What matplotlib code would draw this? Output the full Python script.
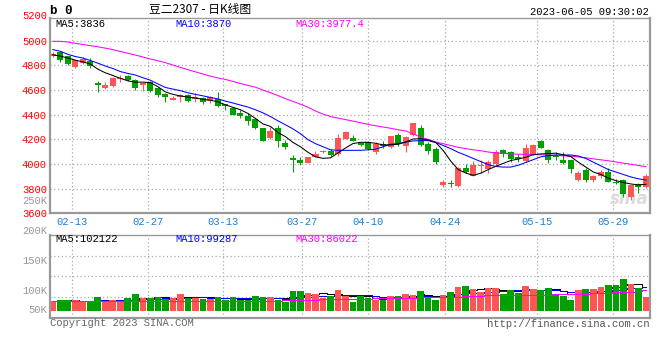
import numpy as np
import pandas as pd
import matplotlib
matplotlib.use("Agg")
import matplotlib.pyplot as plt

# ----------------------------
# data (豆二2307 daily K line)
# ----------------------------
opens = [4875, 4905, 4875, 4790, 4820, 4835, 4655, 4615, 4632, 4690,
         4712, 4685, 4640, 4665, 4620, 4565, 4520, 4540, 4560, 4525,
         4535, 4512, 4525, 4490, 4455, 4415, 4390, 4365, 4290, 4210,
         4295, 4170, 4045, 4030, 4008, 4057, 4097, 4105, 4080, 4205,
         4208, 4170, 4175, 4095, 4166, 4135, 4235, 4145, 4232, 4295,
         4165, 4122, 3830, 3845, 3820, 3970, 3906, 3982, 3960, 3998,
         4110, 4100, 4057, 4025, 4074, 4186, 4110, 4062, 4030, 4030,
         3873, 3953, 3873, 3906, 3938, 3850, 3867, 3732, 3840, 3813]
highs = [4905, 4915, 4880, 4845, 4865, 4860, 4670, 4665, 4705, 4725,
         4720, 4692, 4660, 4670, 4625, 4575, 4550, 4565, 4570, 4575,
         4540, 4550, 4585, 4490, 4460, 4435, 4410, 4375, 4295, 4300,
         4320, 4195, 4075, 4055, 4060, 4108, 4114, 4120, 4245, 4265,
         4235, 4175, 4180, 4175, 4185, 4230, 4250, 4225, 4335, 4320,
         4175, 4135, 3870, 3870, 3975, 4000, 4025, 4030, 4030, 4110,
         4120, 4105, 4080, 4160, 4160, 4195, 4120, 4100, 4098, 4035,
         3940, 3965, 3910, 3950, 3965, 3875, 3875, 3830, 3845, 3915]
lows = [4865, 4830, 4800, 4775, 4810, 4775, 4585, 4605, 4625, 4665,
        4675, 4600, 4595, 4585, 4545, 4505, 4517, 4505, 4505, 4507,
        4490, 4495, 4465, 4440, 4395, 4375, 4320, 4285, 4185, 4200,
        4140, 4120, 3935, 3995, 4005, 4057, 4090, 4065, 4065, 4203,
        4185, 4145, 4110, 4085, 4130, 4130, 4145, 4098, 4230, 4150,
        4085, 4000, 3810, 3810, 3810, 3925, 3906, 3925, 3925, 3995,
        4060, 4020, 4015, 4020, 4073, 4127, 4010, 4030, 3998, 3930,
        3860, 3855, 3855, 3890, 3850, 3835, 3730, 3708, 3762, 3805]
closes = [4890, 4840, 4815, 4840, 4855, 4795, 4640, 4637, 4700, 4700,
          4682, 4618, 4660, 4595, 4557, 4540, 4533, 4560, 4513, 4545,
          4505, 4540, 4470, 4470, 4400, 4390, 4345, 4290, 4190, 4270,
          4190, 4140, 4032, 4005, 4057, 4078, 4105, 4075, 4210, 4258,
          4188, 4155, 4118, 4165, 4150, 4225, 4160, 4220, 4333, 4155,
          4106, 4015, 3857, 3838, 3970, 3934, 3992, 3990, 4014, 4100,
          4085, 4041, 4041, 4128, 4155, 4128, 4036, 4058, 4005, 3960,
          3927, 3867, 3900, 3938, 3857, 3846, 3755, 3827, 3810, 3900]

ma5 = [4886, 4875, 4860, 4843, 4828, 4812, 4770, 4740, 4718, 4695,
       4675, 4664, 4664, 4660, 4628, 4585, 4565, 4552, 4543, 4535,
       4525, 4517, 4505, 4480, 4460, 4440, 4410, 4370, 4325, 4305,
       4255, 4222, 4175, 4140, 4095, 4058, 4046, 4050, 4090, 4130,
       4166, 4176, 4176, 4168, 4155, 4155, 4160, 4178, 4203, 4205,
       4195, 4175, 4110, 4025, 3955, 3927, 3908, 3925, 3955, 3981,
       4005, 4028, 4040, 4055, 4075, 4082, 4084, 4088, 4075, 4060,
       4015, 3975, 3935, 3915, 3885, 3865, 3850, 3838, 3830, 3836]
ma10 = [4928, 4915, 4890, 4872, 4860, 4840, 4818, 4795, 4775, 4750,
        4735, 4722, 4700, 4680, 4650, 4621, 4608, 4595, 4578, 4565,
        4553, 4540, 4528, 4510, 4495, 4478, 4462, 4440, 4415, 4385,
        4350, 4318, 4285, 4245, 4198, 4165, 4140, 4115, 4111, 4111,
        4111, 4111, 4115, 4120, 4140, 4160, 4166, 4178, 4187, 4190,
        4190, 4175, 4150, 4125, 4095, 4071, 4045, 4020, 3995, 3980,
        3975, 3975, 3990, 4012, 4035, 4058, 4068, 4073, 4073, 4073,
        4065, 4045, 4015, 3985, 3955, 3935, 3915, 3895, 3880, 3870]
ma30 = [4995, 4995, 4990, 4979, 4970, 4960, 4951, 4940, 4928, 4913,
        4899, 4884, 4868, 4852, 4838, 4822, 4803, 4784, 4765, 4748,
        4730, 4713, 4698, 4686, 4670, 4653, 4638, 4623, 4600, 4578,
        4555, 4530, 4508, 4485, 4460, 4430, 4405, 4385, 4372, 4360,
        4348, 4335, 4322, 4310, 4300, 4290, 4278, 4268, 4245, 4218,
        4200, 4178, 4165, 4150, 4135, 4125, 4115, 4108, 4097, 4090,
        4086, 4082, 4079, 4078, 4077, 4075, 4073, 4070, 4066, 4063,
        4057, 4050, 4042, 4034, 4026, 4017, 4007, 3998, 3988, 3977.4]

volumes = [41000, 45200, 45200, 45200, 38200, 38200, 57900, 41000, 45200, 38200,
           53700, 70700, 53700, 53700, 57900, 48000, 53700, 70700, 53700, 53700,
           50900, 50900, 57900, 45200, 57900, 45200, 45200, 62200, 57900, 57900,
           45200, 36700, 83400, 83400, 74900, 70700, 53700, 62200, 87600, 62200,
           36700, 62200, 53700, 45200, 45200, 62200, 62200, 70700, 66400, 83400,
           53700, 45200, 66400, 79100, 100300, 104600, 91800, 79100, 96100, 96100,
           70700, 87600, 74900, 104600, 91800, 87600, 96100, 70700, 62200, 45200,
           87600, 91800, 91800, 100300, 108800, 108800, 134200, 113000, 96100, 59300]
vol_ma30 = [41000, 41000, 41000, 41000, 41000, 41000, 41000, 41000, 41000, 41000,
            41000, 41000, 41000, 41000, 41000, 41000, 41000, 41000, 41000, 41000,
            41000, 41000, 41000, 41000, 41000, 41000, 41000, 41500, 42000, 42500,
            43000, 43500, 43800, 44500, 45500, 46500, 47500, 48500, 49500, 49500,
            49500, 50500, 51500, 52500, 53700, 53700, 53700, 54500, 55500, 56000,
            56500, 56500, 56500, 57500, 59000, 60800, 61500, 63000, 65000, 65000,
            65500, 66500, 67800, 67800, 67800, 67800, 68500, 70700, 70700, 70700,
            71500, 72500, 74900, 74900, 76000, 79100, 79100, 80000, 83400, 86022]

date_labels = ['02-13', '02-27', '03-13', '03-27', '04-10', '04-24', '05-15', '05-29']
price_ticks = [3600, 3800, 4000, 4200, 4400, 4600, 4800, 5000]
vol_labels = ['250K', '200K', '150K', '100K', '50K']

# ----------------------------
# layout (pixels of a 660x360 canvas)
# ----------------------------
W, H = 660, 360
date_pos = [2.6, 12.73, 22.72, 33.16, 42.03, 52.25, 64.46, 74.59]
vol_label_y = [201, 231, 260.7, 290.7, 310]

RED = '#ff5555'
GREEN = '#00a000'
GRID = '#aaaaaa'
MONO = ['Liberation Mono', 'DejaVu Sans Mono']
LW = 0.75


def fx(x):
    return x / W


def fy(y):
    return 1 - y / H


o = np.array(opens, dtype=float)
c = np.array(closes, dtype=float)
x = np.arange(len(closes))
cols = np.where(c >= o, RED, GREEN)

fig = plt.figure(figsize=(W / 100, H / 100), dpi=100)
fig.patch.set_facecolor('white')

ax_p = fig.add_axes([fx(50), fy(213.3), 600 / W, (213.3 - 18.3) / H])
ax_v = fig.add_axes([fx(50), fy(318), 600 / W, (318 - 234.7) / H])

for ax in (ax_p, ax_v):
    ax.set_xlim(-0.36, 79.55)
    for side, sp in ax.spines.items():
        sp.set_color('#999999')
        sp.set_linewidth(1.6 if side in ('left', 'bottom', 'right') else 1.0)
    ax.tick_params(length=0)
    for d in date_pos:
        ax.axvline(d, color=GRID, lw=0.9, ls=(0, (1, 2)), zorder=0)

# ---- price panel ----
ax_p.set_ylim(3600, 5182)
for p in price_ticks[1:]:
    ax_p.axhline(p, color=GRID, lw=0.9, ls=(0, (1, 2)), zorder=0)

ax_p.vlines(x, lows, highs, colors=cols, lw=LW, zorder=2)
ax_p.bar(x, np.maximum(np.abs(c - o), 8), bottom=np.minimum(o, c),
         width=0.8, color=cols, linewidth=0, zorder=2)
ax_p.plot(x, ma30, color='#ff00ff', lw=LW, zorder=3)
ax_p.plot(x, ma10, color='#0000ff', lw=LW, zorder=3)
ax_p.plot(x, ma5, color='black', lw=LW, zorder=3)

ax_p.set_yticks(price_ticks)
ax_p.set_yticklabels([str(p) for p in price_ticks], color='#ff0000',
                     fontsize=7.6, family=MONO)
ax_p.tick_params(axis='y', pad=2.2)
ax_p.text(-0.005, 5200, '5200', transform=ax_p.get_yaxis_transform(),
          ha='right', va='center', color='#ff0000', fontsize=7.6,
          family=MONO, clip_on=False)
ax_p.set_xticks(date_pos)
ax_p.set_xticklabels(date_labels, color='#1a7fd4', fontsize=7.6, family=MONO)
ax_p.tick_params(axis='x', pad=2.5)

ax_p.text(0.965, 0.075, 'sina', transform=ax_p.transAxes, ha='center',
          va='center', color='#dcdcdc', fontsize=12, fontweight='bold',
          style='italic', zorder=1)

# ---- volume panel ----
ax_v.set_ylim(-31000, 322000)
for f in (0.25, 0.5, 0.75):
    ax_v.plot([0, 1], [f, f], transform=ax_v.transAxes, color=GRID,
              lw=0.9, ls=(0, (1, 2)), zorder=0)
ax_v.bar(x, volumes, width=0.88, color=cols, linewidth=0, zorder=2)
vs = pd.Series(volumes, dtype=float)
ax_v.plot(x, vs.rolling(5, min_periods=1).mean(), color='black', lw=LW,
          drawstyle='steps-mid', zorder=1)
ax_v.plot(x, vs.rolling(10, min_periods=1).mean(), color='#0000ff', lw=LW,
          drawstyle='steps-mid', zorder=1)
ax_v.plot(x, vol_ma30, color='#ff00ff', lw=LW, drawstyle='steps-mid', zorder=3)
ax_v.set_yticks([])
ax_v.set_xticks([])

for lab, yy in zip(vol_labels, vol_label_y):
    fig.text(fx(47), fy(yy), lab, ha='right', va='center', color='#999999',
             fontsize=7.6, family=MONO)

# ---- header and legends ----
fig.text(fx(50), fy(11), 'b 0', ha='left', va='center', fontsize=9,
         fontweight='bold', family=MONO)
fig.text(fx(200), fy(10), '豆二2307 - 日K线图', ha='center', va='center',
         fontsize=8.5, family=['Noto Sans CJK SC', 'DejaVu Sans'])
fig.text(fx(649), fy(12), '2023-06-05 09:30:02', ha='right', va='center',
         fontsize=7.6, family=MONO)

fig.text(fx(55), fy(24), 'MA5:%d' % ma5[-1], ha='left', va='center',
         fontsize=7.6, family=MONO, color='black')
fig.text(fx(175), fy(24), 'MA10:%d' % ma10[-1], ha='left', va='center',
         fontsize=7.6, family=MONO, color='#0000ff')
fig.text(fx(295), fy(24), 'MA30:%.1f' % ma30[-1], ha='left', va='center',
         fontsize=7.6, family=MONO, color='#ff00ff')

fig.text(fx(55), fy(238.5), 'MA5:102122', ha='left', va='center',
         fontsize=7.6, family=MONO, color='black')
fig.text(fx(175), fy(238.5), 'MA10:99287', ha='left', va='center',
         fontsize=7.6, family=MONO, color='#0000ff')
fig.text(fx(295), fy(238.5), 'MA30:%d' % vol_ma30[-1], ha='left', va='center',
         fontsize=7.6, family=MONO, color='#ff00ff')

fig.text(fx(50), fy(323.5), 'Copyright 2023 SINA.COM', ha='left',
         va='center', fontsize=7.6, family=MONO, color='#666666')
fig.text(fx(649), fy(324), 'http://finance.sina.com.cn', ha='right',
         va='center', fontsize=7.6, family=MONO, color='#555555')

fig.savefig('out.png', dpi=100, facecolor='white')
